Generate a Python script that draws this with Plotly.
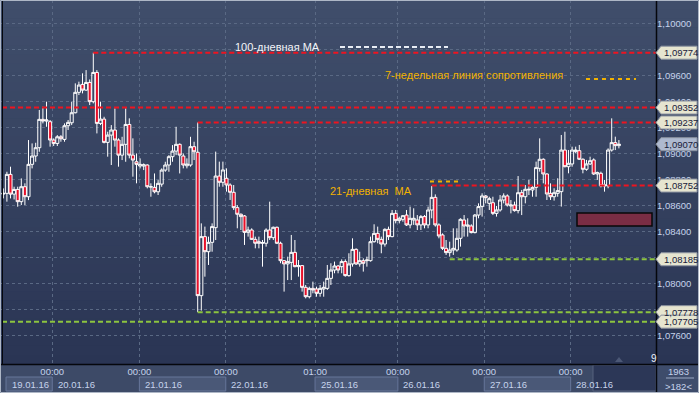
import plotly.graph_objects as go

W, H = 699, 393
PLOT_R, PLOT_B = 656, 364

# ---------------- data (EURUSD H1) ----------------
open_ = [1.08686,1.08692,1.08838,1.08686,1.08722,1.08628,1.08743,1.08666,1.08915,1.08979,
         1.09043,1.09261,1.09248,1.09243,1.09102,1.09076,1.09127,1.09107,1.09212,1.09235,
         1.09312,1.09469,1.09530,1.09486,1.09545,1.09397,1.09622,1.09230,1.09263,1.09084,
         1.09140,1.09179,1.09102,1.08986,1.09069,1.09222,1.08986,1.08935,1.08902,1.08902,
         1.08910,1.08740,1.08738,1.08704,1.08763,1.08871,1.08910,1.08974,1.09017,1.09069,
         1.08979,1.08904,1.08910,1.09051,1.09008,1.07905,1.08359,1.08243,1.08315,1.08428,
         1.08825,1.08777,1.08808,1.08756,1.08700,1.08582,1.08531,1.08518,1.08392,1.08410,
         1.08338,1.08320,1.08308,1.08308,1.08410,1.08351,1.08431,1.08308,1.08174,1.08149,
         1.08161,1.08238,1.08128,1.08136,1.07969,1.07897,1.07961,1.07956,1.07923,1.07956,
         1.07961,1.08038,1.08102,1.08133,1.08128,1.08167,1.08059,1.08149,1.08261,1.08149,
         1.08174,1.08174,1.08174,1.08320,1.08384,1.08338,1.08302,1.08415,1.08359,1.08538,
         1.08482,1.08492,1.08525,1.08449,1.08487,1.08487,1.08449,1.08513,1.08449,1.08564,
         1.08661,1.08449,1.08372,1.08269,1.08236,1.08256,1.08256,1.08346,1.08487,1.08449,
         1.08441,1.08390,1.08525,1.08590,1.08672,1.08615,1.08620,1.08538,1.08564,1.08641,
         1.08672,1.08595,1.08602,1.08559,1.08697,1.08666,1.08718,1.08718,1.08738,1.08884,
         1.08954,1.08841,1.08692,1.08666,1.08692,1.08705,1.09025,1.08897,1.08918,1.09013,
         1.09020,1.08954,1.08877,1.08918,1.08949,1.08841,1.08846,1.08749,1.08749,1.09025,
         1.09082,1.09059]
high = [1.08730,1.08858,1.08897,1.08743,1.08743,1.08807,1.08769,1.09102,1.09076,1.09081,
        1.09333,1.09358,1.09397,1.09256,1.09115,1.09140,1.09140,1.09230,1.09256,1.09397,
        1.09538,1.09551,1.09615,1.09640,1.09568,1.09774,1.09640,1.09397,1.09281,1.09166,
        1.09217,1.09345,1.09115,1.09127,1.09345,1.09269,1.09115,1.08999,1.08961,1.08922,
        1.08915,1.08769,1.08845,1.08794,1.08884,1.08935,1.08986,1.09063,1.09204,1.09076,
        1.08999,1.08961,1.09127,1.09089,1.09237,1.08461,1.08436,1.08359,1.08461,1.09013,
        1.08936,1.08936,1.08884,1.08769,1.08756,1.08602,1.08538,1.08525,1.08436,1.08423,
        1.08359,1.08359,1.08333,1.08423,1.08628,1.08436,1.08436,1.08320,1.08179,1.08205,
        1.08372,1.08333,1.08179,1.08141,1.07987,1.07974,1.08013,1.07974,1.07987,1.08013,
        1.08141,1.08154,1.08167,1.08141,1.08184,1.08184,1.08231,1.08346,1.08269,1.08243,
        1.08192,1.08205,1.08359,1.08454,1.08436,1.08359,1.08423,1.08436,1.08564,1.08564,
        1.08513,1.08525,1.08564,1.08590,1.08577,1.08525,1.08525,1.08525,1.08590,1.08749,
        1.08684,1.08461,1.08384,1.08333,1.08320,1.08423,1.08423,1.08500,1.08525,1.08500,
        1.08454,1.08533,1.08615,1.08692,1.08679,1.08666,1.08666,1.08595,1.08679,1.08692,
        1.08684,1.08641,1.08628,1.08825,1.08718,1.08756,1.08795,1.08749,1.08936,1.09115,
        1.08961,1.08846,1.08769,1.08731,1.08808,1.09141,1.09166,1.09025,1.09051,1.09051,
        1.09064,1.08961,1.08949,1.08974,1.08961,1.08859,1.08859,1.08795,1.09038,1.09269,
        1.09128,1.09102]
low = [1.08653,1.08628,1.08653,1.08645,1.08589,1.08602,1.08602,1.08640,1.08884,1.08935,
       1.09012,1.09230,1.09204,1.09051,1.09056,1.09056,1.09089,1.09089,1.09179,1.09217,
       1.09307,1.09448,1.09461,1.09481,1.09371,1.09384,1.09153,1.09217,1.09076,1.08974,
       1.08910,1.09051,1.08897,1.08948,1.08935,1.08961,1.08820,1.08769,1.08884,1.08871,
       1.08730,1.08666,1.08692,1.08679,1.08743,1.08858,1.08858,1.08935,1.08986,1.08845,
       1.08884,1.08884,1.08897,1.08948,1.07778,1.07790,1.08051,1.08141,1.08243,1.08333,
       1.08743,1.08743,1.08705,1.08641,1.08564,1.08423,1.08410,1.08295,1.08359,1.08333,
       1.08269,1.08269,1.08128,1.08282,1.08333,1.08333,1.08302,1.08154,1.07936,1.08025,
       1.08025,1.08123,1.08051,1.07936,1.07884,1.07884,1.07923,1.07897,1.07897,1.07897,
       1.07949,1.07987,1.08077,1.08077,1.08077,1.08051,1.08051,1.08128,1.08141,1.08128,
       1.08090,1.08128,1.08167,1.08313,1.08308,1.08231,1.08282,1.08333,1.08354,1.08461,
       1.08461,1.08474,1.08441,1.08423,1.08449,1.08410,1.08410,1.08423,1.08423,1.08500,
       1.08436,1.08346,1.08256,1.08218,1.08205,1.08218,1.08243,1.08282,1.08359,1.08359,
       1.08384,1.08384,1.08500,1.08513,1.08615,1.08564,1.08525,1.08513,1.08551,1.08615,
       1.08590,1.08538,1.08551,1.08538,1.08525,1.08615,1.08679,1.08666,1.08666,1.08859,
       1.08769,1.08641,1.08641,1.08636,1.08666,1.08590,1.08892,1.08846,1.08897,1.09000,
       1.08949,1.08846,1.08866,1.08910,1.08833,1.08795,1.08738,1.08705,1.08731,1.09013,
       1.09025,1.09038]
close = [1.08692,1.08838,1.08686,1.08722,1.08628,1.08743,1.08666,1.08915,1.08979,1.09043,
         1.09261,1.09248,1.09256,1.09102,1.09076,1.09127,1.09112,1.09212,1.09238,1.09312,
         1.09469,1.09525,1.09486,1.09545,1.09397,1.09622,1.09230,1.09263,1.09084,1.09140,
         1.09179,1.09102,1.08986,1.09069,1.09222,1.08986,1.08948,1.08915,1.08915,1.08912,
         1.08743,1.08743,1.08704,1.08769,1.08871,1.08910,1.08974,1.09017,1.09069,1.08986,
         1.08910,1.08917,1.09051,1.09012,1.07905,1.08359,1.08243,1.08315,1.08436,1.08825,
         1.08777,1.08872,1.08756,1.08700,1.08582,1.08531,1.08513,1.08392,1.08410,1.08338,
         1.08308,1.08308,1.08313,1.08410,1.08351,1.08431,1.08308,1.08174,1.08149,1.08167,
         1.08238,1.08128,1.08136,1.07969,1.07897,1.07961,1.07949,1.07923,1.07961,1.07969,
         1.08038,1.08102,1.08133,1.08102,1.08167,1.08059,1.08149,1.08261,1.08149,1.08174,
         1.08154,1.08179,1.08320,1.08384,1.08338,1.08302,1.08415,1.08359,1.08538,1.08482,
         1.08500,1.08520,1.08449,1.08500,1.08500,1.08449,1.08513,1.08449,1.08564,1.08661,
         1.08449,1.08364,1.08269,1.08236,1.08256,1.08269,1.08346,1.08492,1.08441,1.08441,
         1.08390,1.08525,1.08590,1.08672,1.08659,1.08651,1.08538,1.08564,1.08641,1.08672,
         1.08602,1.08602,1.08559,1.08697,1.08666,1.08723,1.08723,1.08738,1.08890,1.08954,
         1.08841,1.08687,1.08666,1.08697,1.08713,1.09025,1.08897,1.08923,1.09025,1.09025,
         1.08954,1.08877,1.08918,1.08943,1.08841,1.08851,1.08749,1.08756,1.09025,1.09082,
         1.09059,1.09070]

# day separators (bar index of the day's first bar) and labels
day_bars = [13.6, 37.8, 61.8, 86.6, 109.6, 133.6, 157.6]
time_labels = ["00:00", "00:00", "00:00", "01:00", "00:00", "00:00", "00:00"]
date_labels = ["19.01.16", "20.01.16", "21.01.16", "22.01.16",
               "25.01.16", "26.01.16", "27.01.16", "28.01.16"]

price_ticks = [1.076, 1.078, 1.080, 1.082, 1.084, 1.086, 1.088,
               1.090, 1.092, 1.094, 1.096, 1.098, 1.100]
hidden_ticks = [1.078, 1.082, 1.098]   # scale labels covered by price tags

# horizontal levels: (price, first bar or None for full width)
res_levels = [1.09774, 1.09352, 1.09237, 1.08752]
res_from = [25, None, 54, 119]
sup_levels = [1.08185, 1.07778, 1.07705]
sup_from = [124, 54, None]
tag_prices = [1.09774, 1.09352, 1.09237, 1.09070, 1.08752, 1.08185, 1.07778, 1.07705]
current_price = 1.09070
zone_low, zone_high = 1.08441, 1.08541

# ---------------- helpers for screen positions ----------------
def xp(px):
    return px / W

def yp(py):
    return 1 - py / H

def bar_at(px):
    return (px - 3.3) / 3.6

X0, X1 = bar_at(0), bar_at(PLOT_R)
Y0 = 1.1 - (PLOT_B - 23.3) / 13000
Y1 = 1.1 + 23.3 / 13000
PXY = 1 / 13000.0  # price per pixel

FONT = "Liberation Sans, Arial, sans-serif"
AX_COL = "#c6d3ec"
RED = "#ee1420"
GREEN = "#8cc43f"
ORANGE = "#f2b200"

fig = go.Figure()

fig.add_trace(go.Candlestick(
    x=list(range(len(open_))), open=open_, high=high, low=low, close=close,
    increasing=dict(line=dict(color="#ffffff", width=1), fillcolor="rgba(0,0,0,0)"),
    decreasing=dict(line=dict(color="#ffffff", width=1), fillcolor="#e8102a"),
    whiskerwidth=0, showlegend=False, hoverinfo="skip",
))

left_edge = bar_at(2)
for lv, st in zip(res_levels, res_from):
    fig.add_trace(go.Scatter(x=[left_edge if st is None else st, X1], y=[lv, lv],
                             mode="lines", line=dict(color=RED, width=2, dash="5px,3px"),
                             showlegend=False, hoverinfo="skip"))
for lv, st in zip(sup_levels, sup_from):
    fig.add_trace(go.Scatter(x=[left_edge if st is None else st, X1], y=[lv, lv],
                             mode="lines", line=dict(color=GREEN, width=2, dash="5px,3px"),
                             showlegend=False, hoverinfo="skip"))

shapes = []
# background gradient (plot + right scale)
N = 40
top_c, bot_c = (64, 78, 107), (42, 53, 84)
for k in range(N):
    t = k / (N - 1)
    c = tuple(int(round(top_c[j] + (bot_c[j] - top_c[j]) * t)) for j in range(3))
    shapes.append(dict(type="rect", xref="paper", yref="paper", x0=0, x1=1,
                       y0=yp(PLOT_B * (k + 1) / N + 0.5), y1=yp(PLOT_B * k / N),
                       fillcolor="rgb(%d,%d,%d)" % c, line=dict(width=0), layer="below"))
# bottom scale background
shapes.append(dict(type="rect", xref="paper", yref="paper", x0=0, x1=1, y0=0, y1=yp(PLOT_B),
                   fillcolor="#3d4a67", line=dict(width=0), layer="below"))
# date boxes
edges = [bar_at(6)] + day_bars + [X1]
for k in range(len(date_labels)):
    if k % 2 == 0:
        shapes.append(dict(type="rect", xref="x", yref="paper", x0=edges[k], x1=edges[k + 1],
                           y0=yp(391), y1=yp(377), fillcolor="#4a5877",
                           line=dict(color="#67769a", width=1), layer="below"))
# dark "shift" area at the bottom right
shapes.append(dict(type="rect", xref="paper", yref="paper", x0=xp(593), x1=xp(656),
                   y0=yp(391), y1=yp(365), fillcolor="#2c3757",
                   line=dict(color="#56627e", width=1), layer="below"))
# bottom-right corner
shapes.append(dict(type="rect", xref="paper", yref="paper", x0=xp(657), x1=1,
                   y0=0, y1=yp(PLOT_B), fillcolor="#3e4c6b", line=dict(width=0), layer="below"))
shapes.append(dict(type="line", xref="paper", yref="paper", x0=xp(666), x1=xp(694),
                   y0=yp(378), y1=yp(378), line=dict(color="#9aa8c4", width=1)))
# separators
shapes.append(dict(type="line", xref="paper", yref="paper", x0=xp(656.5), x1=xp(656.5),
                   y0=0, y1=1, line=dict(color="#05070c", width=1.5)))
shapes.append(dict(type="line", xref="paper", yref="paper", x0=0, x1=1,
                   y0=yp(364.5), y1=yp(364.5), line=dict(color="#05070c", width=1.5)))
shapes.append(dict(type="line", xref="paper", yref="paper", x0=xp(2.5), x1=xp(2.5),
                   y0=yp(364), y1=yp(1), line=dict(color="#05070c", width=1)))
# outer frame
shapes.append(dict(type="rect", xref="paper", yref="paper", x0=xp(0.5), x1=xp(698.5),
                   y0=yp(392.5), y1=yp(0.5), line=dict(color="#aeb7c6", width=1)))
# legend samples
shapes.append(dict(type="line", xref="paper", yref="paper", x0=xp(340), x1=xp(448),
                   y0=yp(47), y1=yp(47), line=dict(color="#e8ecf4", width=2, dash="5px,3px")))
shapes.append(dict(type="line", xref="paper", yref="paper", x0=xp(586), x1=xp(636),
                   y0=yp(79), y1=yp(79), line=dict(color=ORANGE, width=2, dash="4px,4px")))
shapes.append(dict(type="line", xref="paper", yref="paper", x0=xp(430), x1=xp(461),
                   y0=yp(181.5), y1=yp(181.5), line=dict(color=ORANGE, width=2, dash="4px,4px")))
# zone box
shapes.append(dict(type="rect", xref="x", yref="y", x0=bar_at(577), x1=bar_at(652),
                   y0=zone_low, y1=zone_high, fillcolor="#7a2d44",
                   line=dict(color="#080808", width=1.5)))
# small triangle marker
shapes.append(dict(type="path", xref="paper", yref="paper",
                   path="M %f %f L %f %f L %f %f Z" % (xp(615), yp(362), xp(623), yp(362), xp(619), yp(357)),
                   fillcolor="#4c5876", line=dict(width=0)))
# price tags on the right scale
h = 6.5 * PXY
for p in tag_prices:
    fill = "#aeb9cf" if p == current_price else "#e6e5d0"
    shapes.append(dict(type="path", xref="paper", yref="y",
                       path="M %f %f L %f %f L %f %f L %f %f L %f %f Z" % (
                           xp(656), p, xp(661), p + h, xp(697), p + h, xp(697), p - h, xp(661), p - h),
                       fillcolor=fill, line=dict(color="#8c93a0", width=1)))

annotations = []
for p in tag_prices:
    annotations.append(dict(x=xp(661.5), y=p, xref="paper", yref="y", xanchor="left", yanchor="middle",
                            text=("%.5f" % p).replace(".", ","), showarrow=False,
                            font=dict(family=FONT, size=9.5, color="#18203a")))
for k, lab in enumerate(date_labels):
    annotations.append(dict(x=edges[k] + 1.0, y=yp(384.5), xref="x", yref="paper",
                            xanchor="left", yanchor="middle", text=lab, showarrow=False,
                            font=dict(family=FONT, size=9.5, color=AX_COL)))
annotations += [
    dict(x=xp(233), y=yp(47), text="100-дневная МА", font=dict(family=FONT, size=11, color="#f2f4f8")),
    dict(x=xp(383), y=yp(75), text="7-недельная линия сопротивления", font=dict(family=FONT, size=11, color=ORANGE)),
    dict(x=xp(328), y=yp(191), text="21-дневная\u00a0 МА", font=dict(family=FONT, size=11, color=ORANGE)),
    dict(x=xp(649), y=yp(358), text="9", font=dict(family=FONT, size=10, color="#eef2fa")),
    dict(x=xp(666), y=yp(371), text="1963", font=dict(family=FONT, size=9.5, color=AX_COL)),
    dict(x=xp(663), y=yp(386), text="&gt;182&lt;", font=dict(family=FONT, size=9.5, color=AX_COL)),
]
for a in annotations[-6:]:
    a.update(xref="paper", yref="paper", xanchor="left", yanchor="middle", showarrow=False)

tick_text = ["" if any(abs(v - hv) < 1e-9 for hv in hidden_ticks) else ("%.5f" % v).replace(".", ",")
             for v in price_ticks]

fig.update_layout(
    width=W, height=H, margin=dict(l=0, r=0, t=0, b=0),
    paper_bgcolor="#33405e", plot_bgcolor="rgba(0,0,0,0)",
    boxgap=0.15, boxgroupgap=0,
    shapes=shapes, annotations=annotations, showlegend=False,
    xaxis=dict(domain=[0, PLOT_R / W], range=[X0, X1], rangeslider=dict(visible=False),
               tickmode="array", tickvals=day_bars, ticktext=time_labels,
               showgrid=True, gridcolor="#5a6984", griddash="3px,3px", gridwidth=1,
               zeroline=False, showline=False, ticks="", automargin=False,
               tickfont=dict(family=FONT, size=9.5, color=AX_COL)),
    yaxis=dict(domain=[1 - PLOT_B / H, 1], range=[Y0, Y1], side="right",
               tickmode="array", tickvals=price_ticks, ticktext=tick_text,
               showgrid=True, gridcolor="#5a6984", griddash="3px,3px", gridwidth=1,
               zeroline=False, showline=False, ticks="", automargin=False,
               tickfont=dict(family=FONT, size=9.5, color=AX_COL)),
)

fig.write_html("out.html", config={"displayModeBar": False},
               post_script="document.body.style.margin='0';document.body.style.overflow='hidden';")
